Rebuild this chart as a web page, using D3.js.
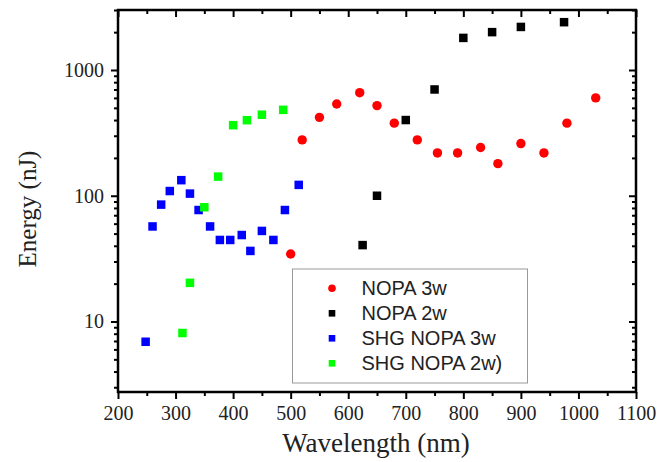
<!DOCTYPE html>
<html>
<head>
<meta charset="utf-8">
<script src="https://cdn.jsdelivr.net/npm/d3@7"></script>
<style>
  html, body { margin: 0; padding: 0; background: #fff; }
  svg { display: block; }
</style>
</head>
<body>
<svg id="chart" width="657" height="462"></svg>
<script>
// ---- data ----
const nopa3wX = [500, 520, 550, 580, 620, 650, 680, 720, 755, 790, 830, 860, 900, 940, 980, 1030];
const nopa3wY = [34.4, 278, 420, 537, 660, 521, 378, 278, 219, 219, 242, 180, 260, 219, 378, 600];

const nopa2wX = [625, 650, 700, 750, 800, 850, 900, 975];
const nopa2wY = [40.5, 100, 400, 700, 1800, 2000, 2200, 2400];

const shg3wX = [248, 260, 275, 290, 310, 325, 340, 360, 377, 395, 415, 430, 450, 470, 490, 514];
const shg3wY = [6.9, 57, 85, 109, 133, 104, 77, 57, 44.5, 44.5, 48.7, 36.4, 52.5, 44.5, 77, 122];

const shg2wX = [312, 325, 350, 374, 400, 424, 450, 487];
const shg2wY = [8.1, 20.3, 81, 142, 364, 399, 441, 482];

const seriesNames = ["NOPA 3w", "NOPA 2w", "SHG NOPA 3w", "SHG NOPA 2w)"];
const xTickValues = [200, 300, 400, 500, 600, 700, 800, 900, 1000, 1100];
const yTickValues = [10, 100, 1000];

// ---- layout ----
const W = 657, H = 462;
const m = { left: 118, top: 10, right: 21, bottom: 70 };
const iw = W - m.left - m.right, ih = H - m.top - m.bottom;

const svg = d3.select("#chart");
const g = svg.append("g").attr("transform", `translate(${m.left},${m.top})`);

const x = d3.scaleLinear().domain([200, 1100]).range([0, iw]);
const y = d3.scaleLog().domain([2.75, 3000]).range([ih, 0]);

const serif = "'Liberation Serif', 'Times New Roman', serif";
const sans = "'Liberation Sans', Arial, sans-serif";

// minor ticks
const xMinor = d3.range(250, 1100, 100);
const yMinor = [];
[1, 10, 100, 1000].forEach(d => { for (let k = 2; k <= 9; k++) { const v = d * k; if (v >= 2.75 && v <= 3000) yMinor.push(v); } });

function styleAxis(sel) {
  sel.select(".domain").remove();
  sel.selectAll("line").attr("stroke", "#000").attr("stroke-width", 2);
  sel.selectAll("text").attr("font-family", serif).attr("font-size", 20).attr("fill", "#222");
}

// bottom axis (outward)
g.append("g").attr("transform", `translate(0,${ih})`)
  .call(d3.axisBottom(x).tickValues(xTickValues).tickSize(7).tickPadding(7).tickFormat(d3.format("d")))
  .call(styleAxis);
g.append("g").attr("transform", `translate(0,${ih})`)
  .call(d3.axisBottom(x).tickValues(xMinor).tickSize(4).tickFormat(""))
  .call(styleAxis);
// top axis (inward)
g.append("g")
  .call(d3.axisBottom(x).tickValues(xTickValues).tickSize(7).tickFormat(""))
  .call(styleAxis);
g.append("g")
  .call(d3.axisBottom(x).tickValues(xMinor).tickSize(4).tickFormat(""))
  .call(styleAxis);
// left axis (outward)
g.append("g")
  .call(d3.axisLeft(y).tickValues(yTickValues).tickSize(7).tickPadding(7).tickFormat(d3.format("d")))
  .call(styleAxis);
g.append("g")
  .call(d3.axisLeft(y).tickValues(yMinor).tickSize(4).tickFormat(""))
  .call(styleAxis);
// right axis (inward)
g.append("g").attr("transform", `translate(${iw},0)`)
  .call(d3.axisLeft(y).tickValues(yTickValues).tickSize(7).tickFormat(""))
  .call(styleAxis);
g.append("g").attr("transform", `translate(${iw},0)`)
  .call(d3.axisLeft(y).tickValues(yMinor).tickSize(4).tickFormat(""))
  .call(styleAxis);

// frame
g.append("rect").attr("x", 0).attr("y", 0).attr("width", iw).attr("height", ih)
  .attr("fill", "none").attr("stroke", "#000").attr("stroke-width", 2.5);

// legend box (pixel placement)
const lg = svg.append("g");
lg.append("rect")
  .attr("x", 292.5).attr("y", 269)
  .attr("width", 235).attr("height", 114)
  .attr("fill", "#fff").attr("stroke", "#999").attr("stroke-width", 1);

// data
const sq = 8.5;
function squares(xs, ys, color) {
  g.append("g").selectAll("rect").data(xs.map((d, i) => [d, ys[i]])).join("rect")
    .attr("x", d => x(d[0]) - sq / 2).attr("y", d => y(d[1]) - sq / 2)
    .attr("width", sq).attr("height", sq).attr("fill", color);
}
squares(nopa2wX, nopa2wY, "#000000");
squares(shg3wX, shg3wY, "#0000ff");
squares(shg2wX, shg2wY, "#00ff00");
g.append("g").selectAll("circle").data(nopa3wX.map((d, i) => [d, nopa3wY[i]])).join("circle")
  .attr("cx", d => x(d[0])).attr("cy", d => y(d[1])).attr("r", 4.7).attr("fill", "#ff0000");

// legend entries
const colors = ["#ff0000", "#000000", "#0000ff", "#00ff00"];
const lx = 332, ly0 = 288.3, lstep = 25;
seriesNames.forEach((name, i) => {
  const cy = ly0 + i * lstep;
  if (i === 0) {
    lg.append("circle").attr("cx", lx).attr("cy", cy).attr("r", 3.8).attr("fill", colors[i]);
  } else {
    lg.append("rect").attr("x", lx - 3.3).attr("y", cy - 3.3).attr("width", 6.6).attr("height", 6.6).attr("fill", colors[i]);
  }
  lg.append("text").attr("x", 361.5).attr("y", cy + 7)
    .attr("font-family", sans).attr("font-size", 20).attr("fill", "#222").text(name);
});

// axis titles
svg.append("text").attr("x", 376).attr("y", 451.5).attr("text-anchor", "middle")
  .attr("font-family", serif).attr("font-size", 27).attr("fill", "#222").text("Wavelength (nm)");
svg.append("text").attr("transform", "translate(36,209) rotate(-90)").attr("text-anchor", "middle")
  .attr("font-family", serif).attr("font-size", 25).attr("fill", "#222").text("Energy (nJ)");
</script>
</body>
</html>
